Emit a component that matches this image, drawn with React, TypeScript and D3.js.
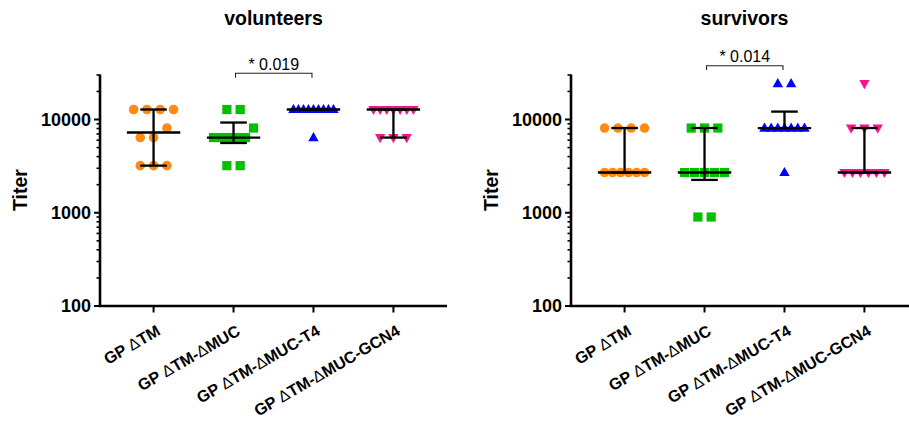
import React from 'react';
import * as d3 from 'd3';

const categories = ['GP ΔTM', 'GP ΔTM-ΔMUC', 'GP ΔTM-ΔMUC-T4', 'GP ΔTM-ΔMUC-GCN4'];
const panelTitles = ['volunteers', 'survivors'];
const yTickValues = [100, 1000, 10000];
const yDomain = [100, 30000];

const volunteersTM = [3200, 3200, 3200, 6400, 6400, 8100, 12800, 12800, 12800, 12800];
const volunteersMUC = [3200, 3200, 6400, 6400, 6400, 6400, 6400, 8100, 12800, 12800];
const volunteersT4 = [6400, 12800, 12800, 12800, 12800, 12800, 12800, 12800, 12800, 12800];
const volunteersGCN4 = [6400, 6400, 6400, 12800, 12800, 12800, 12800, 12800, 12800, 12800];

const survivorsTM = [2700, 2700, 2700, 2700, 2700, 2700, 8100, 8100, 8100, 8100];
const survivorsMUC = [900, 900, 2700, 2700, 2700, 2700, 2700, 8100, 8100, 8100];
const survivorsT4 = [2700, 8100, 8100, 8100, 8100, 8100, 8100, 8100, 24300, 24300];
const survivorsGCN4 = [2700, 2700, 2700, 2700, 2700, 2700, 8100, 8100, 8100, 24300];

const significanceLabels = ['* 0.019', '* 0.014'];
const significancePairs = [[1, 2], [1, 2]];

const colors = ['#FF8A14', '#00C000', '#0000FF', '#F5168A'];
const shapes = ['circle', 'square', 'up', 'down'];

const panelsData = [
  [volunteersTM, volunteersMUC, volunteersT4, volunteersGCN4],
  [survivorsTM, survivorsMUC, survivorsT4, survivorsGCN4],
];

const FONT = '"Liberation Sans", Arial, Helvetica, sans-serif';

function percentile(sorted: number[], p: number) {
  const n = sorted.length;
  const h = (n + 1) * p;
  const lo = Math.floor(h);
  if (lo < 1) return sorted[0];
  if (lo >= n) return sorted[n - 1];
  const frac = h - lo;
  return sorted[lo - 1] + frac * (sorted[lo] - sorted[lo - 1]);
}

function Marker({ shape, x, y, color }: { shape: string; x: number; y: number; color: string }) {
  if (shape === 'circle') return <circle cx={x} cy={y} r={4.8} fill={color} />;
  if (shape === 'square') return <rect x={x - 4.6} y={y - 4.6} width={9.2} height={9.2} fill={color} />;
  if (shape === 'up')
    return <path d={`M${x},${y - 5.6}L${x + 5.2},${y + 3.6}L${x - 5.2},${y + 3.6}Z`} fill={color} />;
  return <path d={`M${x},${y + 5.6}L${x + 5.2},${y - 3.6}L${x - 5.2},${y - 3.6}Z`} fill={color} />;
}

function CategoryLabel({ text }: { text: string }) {
  const parts = text.split('Δ');
  const out: React.ReactNode[] = [];
  parts.forEach((p, i) => {
    if (i > 0)
      out.push(
        <tspan key={'d' + i} fontWeight="normal">
          Δ
        </tspan>
      );
    if (p) out.push(<tspan key={'t' + i}>{p}</tspan>);
  });
  return <>{out}</>;
}

function Panel({ index }: { index: number }) {
  const x0 = index === 0 ? 100 : 571;
  const yTop = 75;
  const yBottom = 306;
  const y = d3.scaleLog().domain(yDomain).range([yBottom, yTop]);
  const x = d3.scalePoint<string>().domain(categories).range([x0, x0 + 347]).padding(0.67);
  const data = panelsData[index];

  const minorTicks: number[] = [];
  [100, 1000, 10000].forEach((d) => {
    for (let m = 2; m <= 9; m++) {
      const v = d * m;
      if (v <= yDomain[1]) minorTicks.push(v);
    }
  });

  const bracketY = index === 0 ? 73.3 : 65.7;
  const [c1, c2] = significancePairs[index];
  const bx1 = (x(categories[c1]) as number) + 2;
  const bx2 = (x(categories[c2]) as number) - 1.5;

  return (
    <g>
      <text
        x={x0 + 173.5}
        y={25}
        textAnchor="middle"
        fontFamily={FONT}
        fontWeight="bold"
        fontSize={19.5}
      >
        {panelTitles[index]}
      </text>
      <text
        transform={`translate(${x0 - 73},190) rotate(-90)`}
        textAnchor="middle"
        fontFamily={FONT}
        fontWeight="bold"
        fontSize={19.5}
      >
        Titer
      </text>

      {/* points */}
      {data.map((vals, ci) => {
        const cx = x(categories[ci]) as number;
        const sorted = [...vals].sort((a, b) => a - b);
        const rows: number[][] = [];
        sorted.forEach((v) => {
          const last = rows[rows.length - 1];
          if (last && Math.abs(y(last[0]) - y(v)) < 10) last.push(v);
          else rows.push([v]);
        });
        const pts: { px: number; py: number }[] = [];
        rows.forEach((row) => {
          const n = row.length;
          const sp = n > 1 ? Math.min(13.3, 40 / (n - 1)) : 0;
          row.forEach((v, i) => pts.push({ px: cx + (i - (n - 1) / 2) * sp, py: y(v) }));
        });
        return (
          <g key={ci}>
            {pts.map((p, i) => (
              <Marker key={i} shape={shapes[ci]} x={p.px} y={p.py} color={colors[ci]} />
            ))}
          </g>
        );
      })}

      {/* median + IQR */}
      {data.map((vals, ci) => {
        const cx = x(categories[ci]) as number;
        const sorted = [...vals].sort((a, b) => a - b);
        const med = d3.median(sorted) as number;
        const q1 = percentile(sorted, 0.25);
        const q3 = percentile(sorted, 0.75);
        return (
          <g key={ci} stroke="#000" strokeWidth={2.3}>
            <line x1={cx} x2={cx} y1={y(q1)} y2={y(q3)} />
            <line x1={cx - 13.3} x2={cx + 13.3} y1={y(q1)} y2={y(q1)} />
            <line x1={cx - 13.3} x2={cx + 13.3} y1={y(q3)} y2={y(q3)} />
            <line x1={cx - 26.7} x2={cx + 26.7} y1={y(med)} y2={y(med)} />
          </g>
        );
      })}

      {/* significance */}
      <path
        d={`M${bx1},${bracketY + 4.4}V${bracketY}H${bx2}V${bracketY + 4.4}`}
        fill="none"
        stroke="#222"
        strokeWidth={1.1}
      />
      <text
        x={(bx1 + bx2) / 2}
        y={bracketY - 3.5}
        textAnchor="middle"
        fontFamily={FONT}
        fontSize={16}
      >
        {significanceLabels[index]}
      </text>

      {/* y axis */}
      <line x1={x0} x2={x0} y1={yTop - 0.5} y2={yBottom + 1} stroke="#000" strokeWidth={2.6} />
      {minorTicks.map((v) => (
        <line key={v} x1={x0 - 3.5} x2={x0} y1={y(v)} y2={y(v)} stroke="#000" strokeWidth={1.6} />
      ))}
      {yTickValues.map((v) => (
        <g key={v}>
          <line x1={x0 - 6} x2={x0} y1={y(v)} y2={y(v)} stroke="#000" strokeWidth={2} />
          <text
            x={x0 - 9}
            y={y(v)}
            dy="0.36em"
            textAnchor="end"
            fontFamily={FONT}
            fontWeight="bold"
            fontSize={18}
          >
            {v}
          </text>
        </g>
      ))}

      {/* x axis */}
      <line x1={x0 - 1.3} x2={x0 + 347} y1={yBottom} y2={yBottom} stroke="#000" strokeWidth={2.6} />
      {categories.map((c) => {
        const cx = x(c) as number;
        return (
          <g key={c}>
            <line x1={cx} x2={cx} y1={yBottom} y2={yBottom + 6.5} stroke="#000" strokeWidth={2} />
            <text
              transform={`translate(${cx + 2},${yBottom + 18}) rotate(-30)`}
              dy="0.72em"
              textAnchor="end"
              fontFamily={FONT}
              fontWeight="bold"
              fontSize={16.2}
            >
              <CategoryLabel text={c} />
            </text>
          </g>
        );
      })}
    </g>
  );
}

export default function App() {
  return (
    <svg
      width={909}
      height={421}
      viewBox="0 0 909 421"
      style={{ position: 'absolute', left: 0, top: 0, background: '#fff' }}
    >
      <rect width={909} height={421} fill="#fff" />
      <Panel index={0} />
      <Panel index={1} />
    </svg>
  );
}
